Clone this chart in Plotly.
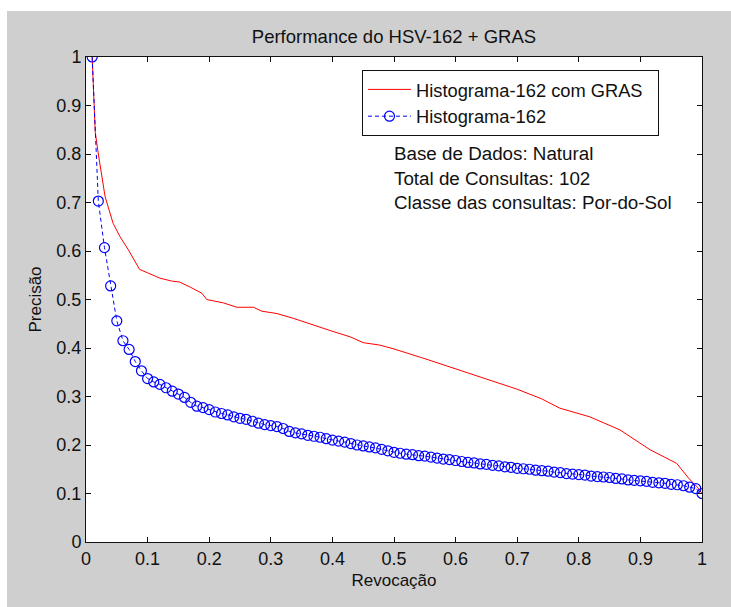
import plotly.graph_objects as go

# ---- data ----
recall_blue = [round(0.01 * i, 2) for i in range(1, 101)]
prec_blue = [
    1.000, 0.703, 0.607, 0.528, 0.456, 0.415, 0.397, 0.372, 0.353, 0.337,
    0.330, 0.325, 0.318, 0.311, 0.305, 0.298, 0.288, 0.280, 0.277, 0.273,
    0.268, 0.265, 0.262, 0.258, 0.255, 0.253, 0.249, 0.245, 0.242, 0.240,
    0.238, 0.234, 0.228, 0.225, 0.223, 0.220, 0.218, 0.216, 0.213, 0.210,
    0.208, 0.206, 0.203, 0.200, 0.198, 0.196, 0.194, 0.191, 0.188, 0.185,
    0.183, 0.181, 0.180, 0.178, 0.177, 0.175, 0.173, 0.171, 0.170, 0.168,
    0.166, 0.164, 0.163, 0.161, 0.160, 0.158, 0.157, 0.155, 0.154, 0.152,
    0.151, 0.150, 0.148, 0.147, 0.146, 0.144, 0.143, 0.141, 0.140, 0.139,
    0.138, 0.136, 0.135, 0.134, 0.133, 0.131, 0.130, 0.128, 0.127, 0.126,
    0.125, 0.123, 0.122, 0.121, 0.119, 0.118, 0.116, 0.113, 0.110, 0.100,
]

recall_red = [
    0.010, 0.012, 0.015, 0.020, 0.025, 0.031, 0.044, 0.055, 0.069, 0.087,
    0.100, 0.120, 0.139, 0.152, 0.170, 0.188, 0.196, 0.223, 0.245, 0.272,
    0.285, 0.310, 0.337, 0.369, 0.401, 0.429, 0.450, 0.477, 0.500, 0.550,
    0.600, 0.650, 0.700, 0.740, 0.769, 0.818, 0.867, 0.916, 0.959, 0.978,
    0.994, 1.000,
]
prec_red = [
    1.000, 0.930, 0.845, 0.800, 0.760, 0.712, 0.657, 0.630, 0.602, 0.562,
    0.555, 0.544, 0.538, 0.536, 0.525, 0.513, 0.500, 0.493, 0.484, 0.484,
    0.476, 0.471, 0.461, 0.447, 0.434, 0.423, 0.411, 0.406, 0.398, 0.378,
    0.357, 0.337, 0.315, 0.295, 0.276, 0.258, 0.231, 0.190, 0.162, 0.132,
    0.111, 0.100,
]

tick_vals = [round(0.1 * i, 1) for i in range(11)]
tick_text = ["0", "0.1", "0.2", "0.3", "0.4", "0.5", "0.6", "0.7", "0.8", "0.9", "1"]

title_text = "Performance do HSV-162 + GRAS"
x_title = "Revocação"
y_title = "Precisão"
name_red = "Histograma-162 com GRAS"
name_blue = "Histograma-162"
info_lines = ["Base de Dados: Natural", "Total de Consultas: 102", "Classe das consultas: Por-do-Sol"]

FONT = "Liberation Sans, Arial, sans-serif"
GRAY = "#cfcfcf"
TXT = "#111111"

W, H = 731, 607
L, R, T, B = 86, 29, 57, 65
pw, ph = W - L - R, H - T - B


def px_to_paper_x(px):
    return (px - L) / pw


def py_to_paper_y(py):
    return (H - B - py) / ph


fig = go.Figure()
fig.add_trace(go.Scatter(
    x=recall_red, y=prec_red, mode="lines", name=name_red + "\u00a0\u00a0",
    line=dict(color="#ff0000", width=1),
))
fig.add_trace(go.Scatter(
    x=recall_blue, y=prec_blue, mode="lines+markers", name=name_blue,
    line=dict(color="#0000ff", width=1, dash="4px,3px"),
    marker=dict(symbol="circle-open", size=10, color="#0000ff", line=dict(width=1.2)),
))

axis_common = dict(
    range=[0, 1], tickmode="array", tickvals=tick_vals, ticktext=tick_text,
    showline=True, linecolor="#111111", linewidth=1, mirror="ticks",
    ticks="inside", ticklen=5, tickcolor="#111111", showgrid=False, zeroline=False,
    tickfont=dict(family=FONT, size=18, color=TXT),
)

fig.update_layout(
    width=W, height=H, autosize=False,
    margin=dict(l=L, r=R, t=T, b=B),
    paper_bgcolor=GRAY, plot_bgcolor="white",
    title=dict(text=title_text, x=px_to_paper_x(394), xref="paper", xanchor="center",
               y=1 - 37 / H, yref="container", yanchor="middle",
               font=dict(family=FONT, size=18.5, color=TXT)),
    xaxis=dict(axis_common, title=dict(text=x_title, standoff=6,
                                       font=dict(family=FONT, size=17, color=TXT))),
    yaxis=dict(axis_common, title=dict(text=y_title, standoff=10,
                                       font=dict(family=FONT, size=17, color=TXT))),
    legend=dict(x=px_to_paper_x(362), y=py_to_paper_y(70), xanchor="left", yanchor="top",
                bgcolor="white", bordercolor=TXT, borderwidth=1,
                font=dict(family=FONT, size=18.3, color=TXT),
                tracegroupgap=0, itemwidth=43),
    showlegend=True,
)

for i, line in enumerate(info_lines):
    fig.add_annotation(
        text=line, xref="paper", yref="paper",
        x=px_to_paper_x(392), y=py_to_paper_y(154 + 24 * i),
        xanchor="left", yanchor="middle", showarrow=False,
        font=dict(family=FONT, size=18.8, color=TXT),
    )

# white strips at top and left edges of the image
fig.add_shape(type="rect", xref="paper", yref="paper",
              x0=px_to_paper_x(-2), x1=px_to_paper_x(W + 2),
              y0=py_to_paper_y(11), y1=py_to_paper_y(-2),
              fillcolor="white", line=dict(width=0), layer="above")
fig.add_shape(type="rect", xref="paper", yref="paper",
              x0=px_to_paper_x(-2), x1=px_to_paper_x(7),
              y0=py_to_paper_y(H + 2), y1=py_to_paper_y(-2),
              fillcolor="white", line=dict(width=0), layer="above")

fig.write_html("out.html")
